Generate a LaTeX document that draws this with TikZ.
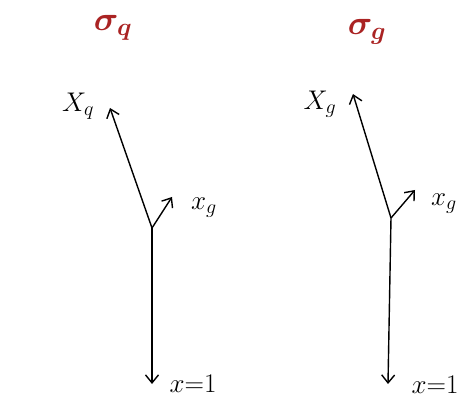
\RequirePackage{fix-cm}
\documentclass[tikz,border=0pt]{standalone}
\usepackage{amsmath}
\usepackage{bm}
\usetikzlibrary{arrows.meta}
\DeclareMathSizes{27}{27}{20}{15}
\DeclareMathSizes{34}{34}{25}{18}
\definecolor{sigmared}{RGB}{170,35,35}
\tikzset{
  vec/.style={line width=1.4pt, -{Straight Barb[length=8pt,width=13pt,line width=1.4pt]}},
  lbl/.style={font=\fontsize{27}{30}\selectfont, inner sep=1pt},
  title/.style={font=\fontsize{34}{38}\selectfont, text=sigmared, inner sep=1pt}
}
\begin{document}
\begin{tikzpicture}[x=1pt, y=-1pt]
    \useasboundingbox (0,0) rectangle (475,420);
    % left diagram
    \coordinate (O1) at (152,228);
    \coordinate (U1) at (110,108);
    \coordinate (S1) at (172,197);
    \coordinate (D1) at (152,384);
    \draw[vec] (O1) -- (U1);
    \draw[vec] (O1) -- (S1);
    \draw[vec] (O1) -- (D1);
    \node[title] (T1) at (113,28) {$\bm{\sigma}_{\bm{q}}$};
    \node[lbl] (LU1) at (78,106) {$X_q$};
    \node[lbl] (LS1) at (204,208) {$x_g$};
    \node[lbl] (LD1) at (193,384) {$x{=}1$};
    % right diagram
    \coordinate (O2) at (391,218);
    \coordinate (U2) at (353,94);
    \coordinate (S2) at (415,190);
    \coordinate (D2) at (388,384);
    \draw[vec] (O2) -- (U2);
    \draw[vec] (O2) -- (S2);
    \draw[vec] (O2) -- (D2);
    \node[title] (T2) at (367,32) {$\bm{\sigma}_{\bm{g}}$};
    \node[lbl] (LU2) at (320,104) {$X_g$};
    \node[lbl] (LS2) at (444,204) {$x_g$};
    \node[lbl] (LD2) at (435,385) {$x{=}1$};
\end{tikzpicture}
\end{document}
